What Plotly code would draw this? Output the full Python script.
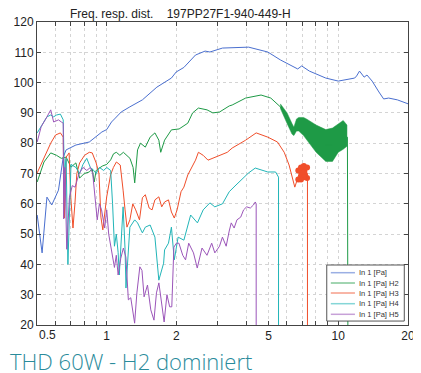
# Freq. resp. dist. - THD 60W, H2 dominiert
import plotly.graph_objects as go

# Grundkurve In 1 [Pa]  (Frequenz in kHz, Pegel in dB)
f_in1 = [0.501, 0.526, 0.552, 0.579, 0.619, 0.649, 0.668, 0.736, 0.841, 0.891, 0.953, 1.0, 1.049,
         1.09, 1.155, 1.259, 1.426, 1.647, 1.903, 1.995, 2.154, 2.418, 2.66, 2.79, 3.162, 4.10,
         4.96, 5.62, 6.68, 6.95, 7.5, 8.83, 10.0, 11.77, 12.0, 12.35, 12.93, 13.3, 14.0, 14.98,
         15.7, 16.5, 18.0, 20.0]
db_in1 = [56.3, 43.8, 62.2, 59.6, 64.5, 75.4, 77.8, 79.4, 80.4, 82.0, 83.7, 84.5, 87.0,
          88.3, 90.3, 92.0, 94.3, 98.5, 101.5, 103.5, 105.0, 109.1, 110.4, 110.1, 111.4, 111.7,
          110.1, 107.5, 104.5, 105.5, 103.8, 101.5, 100.5, 101.5, 102.2, 103.8, 101.8, 102.5, 100.5, 96.9,
          94.6, 94.9, 94.3, 93.0]

# H2
f_h2 = [0.501, 0.536, 0.573, 0.607, 0.637, 0.668, 0.701, 0.736, 0.764, 0.8, 0.841, 0.866, 0.883,
        0.9, 0.93, 0.96, 1.0, 1.04, 1.07, 1.1, 1.14, 1.18, 1.26, 1.30, 1.321, 1.34, 1.359, 1.399,
        1.468, 1.54, 1.615, 1.679, 1.711, 1.778, 1.903, 2.054, 2.239, 2.349, 2.489, 2.712, 2.872,
        3.072, 3.382, 3.481, 3.981, 4.64, 5.11, 5.62, 6.01, 6.31, 6.43, 6.75, 7.08, 7.29, 8.02,
        8.83, 9.44, 10.0, 10.5, 10.95, 11.0]
db_h2 = [67.2, 73.8, 76.8, 76.0, 75.0, 75.4, 72.1, 73.5, 68.5, 70.0, 70.5, 71.5, 67.2,
         71.0, 71.8, 72.5, 73.0, 74.5, 76.5, 77.0, 76.0, 77.0, 75.0, 72.0, 66.9, 72.0, 77.8, 80.0,
         78.7, 82.0, 83.4, 81.0, 77.0, 81.0, 84.4, 84.7, 86.6, 90.0, 91.6, 91.0, 90.0,
         90.3, 92.3, 92.6, 94.9, 95.9, 94.9, 92.0, 88.3, 84.5, 84.0, 86.5, 85.5, 84.5, 81.5,
         79.5, 79.5, 81.5, 83.0, 82.0, 20.0]
# H2 Streuband (obere / untere Kante)
f_h2_top = [5.62, 6.01, 6.31, 6.43, 6.6, 6.75, 7.08, 7.29, 8.02, 8.83, 9.44, 10.0, 10.5, 10.9]
db_h2_top = [93.0, 90.0, 86.5, 85.3, 88.0, 88.5, 88.5, 88.0, 86.0, 84.5, 85.0, 86.5, 87.5, 86.0]
f_h2_bot = [10.9, 10.5, 10.0, 9.44, 8.83, 8.02, 7.29, 7.08, 6.75, 6.6, 6.43, 6.31, 6.01, 5.62]
db_h2_bot = [79.0, 78.0, 77.0, 74.0, 74.0, 77.0, 81.5, 82.5, 84.0, 84.0, 82.5, 83.0, 86.5, 91.5]

# H3
f_h3 = [0.501, 0.547, 0.573, 0.601, 0.631, 0.649, 0.656, 0.668, 0.688, 0.70, 0.715, 0.729, 0.743,
        0.764, 0.802, 0.841, 0.866, 0.9, 0.926, 0.944, 0.962, 1.0, 1.039, 1.069, 1.101, 1.144,
        1.155, 1.177, 1.2, 1.223, 1.259, 1.296, 1.334, 1.385, 1.426, 1.468, 1.525, 1.57, 1.615,
        1.679, 1.728, 1.778, 1.848, 1.903, 1.958, 2.014, 2.094, 2.154, 2.239, 2.304, 2.418,
        2.489, 2.61, 2.738, 2.872, 3.072, 3.317, 3.481, 3.981, 4.42, 4.96, 5.46, 5.84, 6.13,
        6.31, 6.49, 6.75, 7.08, 7.29, 7.36, 7.36]
db_h3 = [70.2, 76.8, 80.0, 82.7, 83.4, 82.0, 55.3, 75.4, 76.8, 62.0, 52.0, 60.0, 70.0,
         73.5, 76.0, 77.0, 76.8, 73.5, 70.0, 55.6, 51.4, 62.3, 69.5, 72.0, 73.8, 72.8,
         70.5, 64.5, 58.0, 52.3, 54.7, 60.0, 58.0, 54.7, 62.0, 63.0, 58.6, 58.0, 61.3,
         62.3, 59.0, 60.6, 61.3, 57.3, 55.3, 58.0, 64.0, 65.5, 69.5, 71.2, 74.4,
         77.0, 76.0, 74.4, 75.0, 76.0, 77.0, 78.4, 81.0, 83.4, 82.0, 80.4, 77.0, 72.8,
         68.8, 65.5, 69.5, 70.8, 70.2, 70.0, 20.0]
f_h3_top = [6.72, 6.9, 7.1, 7.33]
db_h3_top = [71.0, 72.0, 72.5, 72.0]
f_h3_bot = [7.33, 7.1, 6.9, 6.72]
db_h3_bot = [68.5, 68.8, 68.0, 68.0]

# H4
f_h4 = [0.501, 0.552, 0.573, 0.59, 0.607, 0.631, 0.649, 0.656, 0.668, 0.68, 0.701, 0.736, 0.764,
        0.79, 0.82, 0.85, 0.88, 0.9, 0.93, 0.97, 1.0, 1.04, 1.06, 1.08, 1.1, 1.12, 1.133, 1.155,
        1.177, 1.2, 1.211, 1.259, 1.321, 1.359, 1.426, 1.468, 1.54, 1.615, 1.679, 1.761, 1.778,
        1.848, 1.903, 1.958, 2.034, 2.154, 2.304, 2.465, 2.61, 2.79, 2.929, 3.162, 3.382, 3.617,
        3.831, 4.10, 4.38, 4.64, 4.96, 5.36, 5.52, 5.52]
db_h4 = [83.4, 88.7, 89.3, 88.7, 89.3, 89.6, 87.7, 70.0, 75.0, 40.0, 73.0, 72.0, 70.0,
         73.0, 75.0, 72.0, 71.0, 70.0, 72.0, 71.0, 72.0, 71.0, 60.0, 46.0, 50.0, 44.0, 36.5, 50.0,
         59.0, 45.0, 32.2, 52.3, 54.7, 53.7, 50.4, 52.3, 53.0, 49.0, 34.8, 40.4, 44.8,
         47.0, 52.3, 41.5, 49.0, 48.0, 56.3, 53.7, 58.0, 60.3, 59.0, 60.0, 64.0, 66.2,
         67.9, 70.2, 71.8, 71.2, 70.5, 70.5, 68.8, 20.0]

# H5
f_h5 = [0.501, 0.521, 0.552, 0.573, 0.59, 0.619, 0.637, 0.649, 0.652, 0.66, 0.672, 0.69, 0.71,
        0.73, 0.76, 0.79, 0.82, 0.85, 0.87, 0.89, 0.91, 0.93, 0.95, 0.98, 1.0, 1.02, 1.05, 1.08,
        1.1, 1.12, 1.15, 1.18, 1.21, 1.24, 1.27, 1.3, 1.32, 1.35, 1.39, 1.42, 1.45, 1.5, 1.55,
        1.6, 1.64, 1.68, 1.72, 1.77, 1.82, 1.87, 1.91, 1.95, 2.0, 2.05, 2.13, 2.19, 2.26, 2.37,
        2.46, 2.58, 2.71, 2.84, 2.93, 3.07, 3.16, 3.28, 3.38, 3.45, 3.55, 3.65, 3.79, 3.9,
        4.02, 4.17, 4.3, 4.38, 4.42, 4.42]
db_h5 = [80.4, 85.4, 88.7, 91.0, 87.0, 87.7, 87.0, 86.6, 55.0, 72.0, 45.0, 62.0, 66.0,
         65.5, 70.0, 72.0, 71.0, 72.0, 70.0, 62.0, 54.7, 60.0, 58.0, 52.0, 58.0, 50.0, 44.8, 39.0,
         43.0, 36.5, 42.0, 45.4, 42.4, 28.3, 29.0, 24.0, 20.6, 30.6, 39.2, 38.0, 29.3, 33.2, 25.0,
         21.6, 30.6, 33.9, 28.3, 21.0, 30.0, 26.0, 26.0, 45.7, 47.0, 47.0, 43.0, 41.5, 47.0, 43.8,
         38.8, 45.4, 43.0, 47.0, 43.8, 46.0, 49.0, 46.0, 51.0, 53.7, 52.0, 54.7, 55.6, 58.0,
         59.0, 58.6, 59.6, 60.6, 60.0, 20.0]

x_ticks = [0.5, 1, 2, 5, 10, 20]
x_minor = [0.6, 0.7, 0.8, 0.9, 3, 4, 6, 7, 8, 9]

blau = "#4a6fcf"
gruen = "#1e9a46"
rot = "#f04e2a"
tuerkis = "#22b5b8"
lila = "#9b55b9"

fig = go.Figure()

# Streubänder unter den Linien
fig.add_trace(go.Scatter(x=f_h2_top + f_h2_bot, y=db_h2_top + db_h2_bot, fill="toself",
                         fillcolor=gruen, line=dict(color=gruen, width=0.5),
                         showlegend=False, hoverinfo="skip"))
fig.add_trace(go.Scatter(x=f_h3_top + f_h3_bot, y=db_h3_top + db_h3_bot, fill="toself",
                         fillcolor=rot, line=dict(color=rot, width=0.5),
                         showlegend=False, hoverinfo="skip"))

kurven = [
    ("In 1 [Pa]", f_in1, db_in1, blau),
    ("In 1 [Pa] H2", f_h2, db_h2, gruen),
    ("In 1 [Pa] H3", f_h3, db_h3, rot),
    ("In 1 [Pa] H4", f_h4, db_h4, tuerkis),
    ("In 1 [Pa] H5", f_h5, db_h5, lila),
]
for name, f, db, farbe in kurven:
    fig.add_trace(go.Scatter(x=f, y=db, mode="lines", name=name, showlegend=False,
                             line=dict(color=farbe, width=1)))

# Legende im MATLAB-Stil (kompakt, unten rechts)
fig.add_shape(type="rect", xref="paper", yref="paper", x0=0.781, x1=0.990, y0=0.013, y1=0.198,
              line=dict(color="#555", width=1), fillcolor="white", layer="above")
zeilen_y = [0.1726, 0.1386, 0.1056, 0.0703, 0.0353]
for (name, _, _, farbe), zy in zip(kurven, zeilen_y):
    fig.add_shape(type="line", xref="paper", yref="paper", x0=0.792, x1=0.857, y0=zy, y1=zy,
                  line=dict(color=farbe, width=1.5), opacity=0.55, layer="above")
    fig.add_annotation(text=name, xref="paper", yref="paper", x=0.862, y=zy,
                       xanchor="left", yanchor="middle", showarrow=False,
                       font=dict(family="Liberation Sans", size=7.5, color="#333"))

achse = dict(showline=True, linecolor="#444", linewidth=1, mirror="allticks",
             ticks="inside", ticklen=4, tickcolor="#444",
             showgrid=True, gridcolor="#d4d4d4", griddash="dot", gridwidth=1,
             zeroline=False, tickfont=dict(family="Liberation Sans", size=12, color="#222"))

# "0.5" steht im Original rechts neben der Achsenkante
fig.update_xaxes(type="log", range=[-0.30103, 1.30103], tickvals=x_ticks,
                 ticktext=["" if v == 0.5 else str(v) for v in x_ticks],
                 minor=dict(tickvals=x_minor, ticks="inside", ticklen=4, tickcolor="#444",
                            showgrid=True, gridcolor="#d4d4d4", griddash="dot"),
                 **achse)
fig.update_yaxes(range=[20, 120], dtick=10, **achse)

fig.add_annotation(text="0.5", xref="paper", yref="paper", x=0.0, y=-0.033,
                   xanchor="left", yanchor="middle", showarrow=False,
                   font=dict(family="Liberation Sans", size=12, color="#222"))
fig.add_annotation(text="Freq. resp. dist.    197PP27F1-940-449-H", xref="paper", yref="paper",
                   x=0.083, y=1.028, xanchor="left", yanchor="middle", showarrow=False,
                   font=dict(family="Liberation Sans", size=12, color="#222"))
fig.add_annotation(text="THD 60W - H2 dominiert", xref="paper", yref="paper",
                   x=-0.078, y=-0.119, xanchor="left", yanchor="middle", showarrow=False,
                   font=dict(family="Open Sans", size=22, color="#2a8b9b", weight=300))

# Seite hat 8px Rand -> Figur 413x365, damit sie ins 421x373-Fenster passt
fig.update_layout(
    width=413, height=365, autosize=False,
    margin=dict(l=23, r=6, t=14, b=48),
    plot_bgcolor="white", paper_bgcolor="white",
)

fig.write_html("out.html")
